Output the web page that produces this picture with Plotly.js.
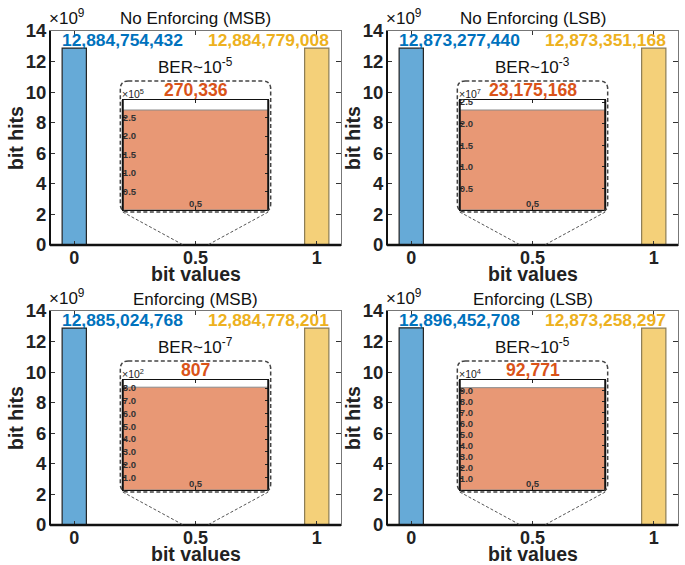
<!DOCTYPE html>
<html>
<head>
<meta charset="utf-8">
<script src="https://cdn.plot.ly/plotly-3.0.1.min.js"></script>
<style>html,body{margin:0;padding:0;background:#fff}</style>
</head>
<body>
<div id="chart" style="width:685px;height:565px"></div>
<script>
// Bit-hit counts per experiment
const panelTitles = ['No Enforcing (MSB)', 'No Enforcing (LSB)', 'Enforcing (MSB)', 'Enforcing (LSB)'];
const zeroHits = [12884754432, 12873277440, 12885024768, 12896452708];
const oneHits  = [12884779008, 12873351168, 12884778201, 12873258297];
const flipHits = [270336, 23175168, 807, 92771];
const berExponent = [-5, -3, -7, -5];
const insetExponent = [5, 7, 2, 4];
const insetStep = [0.5, 0.5, 1, 1];
const insetHeadroom = [1.1, 1.1, 1.07, 1.075];

const xTickVals = [0, 0.5, 1];
const xTickText = ['0', '0.5', '1'];
const yTickVals = [0, 2, 4, 6, 8, 10, 12, 14];
const yExponent = 9;
const xTitle = 'bit values';
const yTitle = 'bit hits';

const W = 685, H = 565;
const FONT = '"Liberation Sans", Arial, Helvetica, sans-serif';
const BLUE = '#0072BD', ORANGE = '#EDB120', RED = '#D95319';
const cols = [[50, 341], [387, 678]];
const rows = [[31, 245], [311, 525]];
const X_RANGE = [-0.1, 1.1];
const Y_SCALE = Math.pow(10, yExponent);
const Y_MAX = 14 * Y_SCALE;

const traces = [];
const layout = {
  width: W, height: H,
  margin: {l: 0, r: 0, t: 0, b: 0},
  showlegend: false,
  paper_bgcolor: '#ffffff',
  plot_bgcolor: 'rgba(0,0,0,0)',
  bargap: 0,
  font: {family: FONT, color: '#222'},
  annotations: [],
  shapes: []
};

const fmt = v => v.toLocaleString('en-US');
const paperX = p => p / W;
const paperY = p => 1 - p / H;

panelTitles.forEach((title, i) => {
  const [px0, px1] = cols[i % 2];
  const [py0, py1] = rows[Math.floor(i / 2)];
  const n = i + 1, m = i + 5;
  const xName = n === 1 ? 'xaxis' : 'xaxis' + n;
  const yName = n === 1 ? 'yaxis' : 'yaxis' + n;
  const xa = n === 1 ? 'x' : 'x' + n;
  const ya = n === 1 ? 'y' : 'y' + n;
  const xi = 'x' + m, yi = 'y' + m;

  // pixel offsets (from the top of the plot area) -> main-axis data values
  const pxOf = v => px0 + (v - X_RANGE[0]) / (X_RANGE[1] - X_RANGE[0]) * (px1 - px0);
  const dataY = off => (py1 - (py0 + off)) / (py1 - py0) * Y_MAX;

  // main axes
  layout[xName] = {
    domain: [paperX(px0), paperX(px1)], anchor: ya, range: X_RANGE,
    tickvals: xTickVals, ticktext: xTickText,
    ticks: 'inside', ticklen: 4, tickcolor: '#333',
    ticklabelstandoff: -4,
    showline: true, linecolor: '#777', linewidth: 1, mirror: 'ticks',
    showgrid: false, zeroline: false, fixedrange: true,
    tickfont: {size: 18, weight: 'bold', color: '#222', family: FONT}
  };
  layout[yName] = {
    domain: [paperY(py1), paperY(py0)], anchor: xa, range: [0, Y_MAX],
    tickvals: yTickVals.map(t => t * Y_SCALE), ticktext: yTickVals.map(String),
    ticks: 'inside', ticklen: 5, tickcolor: '#333',
    showline: true, linecolor: '#777', linewidth: 1, mirror: 'ticks',
    showgrid: false, zeroline: false, fixedrange: true,
    ticklabelstandoff: -1,
    tickfont: {size: 18.5, weight: 'bold', color: '#222', family: FONT}
  };

  // axis titles
  layout.annotations.push(
    {xref: 'paper', yref: 'paper', x: paperX((px0 + px1) / 2), y: paperY(py1 + 29),
     text: xTitle, showarrow: false, xanchor: 'center', yanchor: 'middle',
     font: {size: 19.5, weight: 'bold', color: '#222', family: FONT}},
    {xref: 'paper', yref: 'paper', x: paperX(px0 - 34), y: paperY((py0 + py1) / 2),
     text: yTitle, textangle: -90, showarrow: false, xanchor: 'center', yanchor: 'middle',
     font: {size: 19.5, weight: 'bold', color: '#222', family: FONT}}
  );

  // heavy left and bottom spines
  layout.shapes.push(
    {type: 'line', xref: xa + ' domain', yref: ya + ' domain', x0: 0, x1: 0, y0: 0, y1: 1, line: {color: '#111', width: 2}, layer: 'above'},
    {type: 'line', xref: xa + ' domain', yref: ya + ' domain', x0: 0, x1: 1, y0: 0, y1: 0, line: {color: '#111', width: 2.5}, layer: 'above'}
  );

  traces.push({
    type: 'bar', x: [0, 1], y: [zeroHits[i], oneHits[i]], width: 0.1,
    xaxis: xa, yaxis: ya, hoverinfo: 'skip',
    marker: {color: ['#66AAD7', '#F4D079'], line: {color: ['#222', '#8c7c55'], width: 1.2}}
  });

  // panel title
  layout.annotations.push({
    xref: 'paper', yref: 'paper', x: paperX((px0 + px1) / 2), y: paperY(py0 - 12),
    text: title, showarrow: false, xanchor: 'center', yanchor: 'middle',
    font: {size: 17, color: '#111', family: FONT}
  });
  // axis multiplier
  layout.annotations.push({
    xref: 'paper', yref: 'paper', x: paperX(px0 - 3), y: paperY(py0 - 1),
    text: '×10<sup>' + yExponent + '</sup>', showarrow: false, xanchor: 'left', yanchor: 'bottom',
    font: {size: 17, color: '#111', family: FONT}
  });
  // count labels
  layout.annotations.push(
    {xref: xa, yref: ya, x: 0.2, y: dataY(9), text: fmt(zeroHits[i]), showarrow: false,
     xanchor: 'center', yanchor: 'middle', font: {size: 17.4, weight: 'bold', color: BLUE, family: FONT}},
    {xref: xa, yref: ya, x: 0.8, y: dataY(9), text: fmt(oneHits[i]), showarrow: false,
     xanchor: 'center', yanchor: 'middle', font: {size: 17.4, weight: 'bold', color: ORANGE, family: FONT}},
    {xref: xa, yref: ya, x: 0.5, y: dataY(35), text: 'BER~10<sup>' + berExponent[i] + '</sup>', showarrow: false,
     xanchor: 'center', yanchor: 'middle', font: {size: 17, color: '#111', family: FONT}},
    {xref: xa, yref: ya, x: 0.5, y: dataY(59), text: fmt(flipHits[i]), showarrow: false,
     xanchor: 'center', yanchor: 'middle', font: {size: 17.6, weight: 'bold', color: RED, family: FONT}}
  );

  // inset: zoom on the flipped bits around 0.5
  const ix0 = 0.2, ix1 = 0.8;
  const iyTopPx = py0 + 69, iyBotPx = py0 + 179;
  const insetScale = Math.pow(10, insetExponent[i]);
  const yTop = flipHits[i] * insetHeadroom[i];
  const iTicks = [];
  for (let k = 1; k * insetStep[i] * insetScale <= yTop; k++) iTicks.push(k * insetStep[i] * insetScale);

  layout['xaxis' + m] = {
    domain: [paperX(pxOf(ix0)), paperX(pxOf(ix1))], anchor: yi, range: [0.45, 0.55],
    tickvals: [0.5], ticktext: ['0.5'], ticks: 'inside', ticklen: 3, tickcolor: '#222',
    ticklabelposition: 'inside', ticklabeloverflow: 'allow', ticklabelstandoff: -3,
    showline: true, linecolor: '#111', linewidth: 1, mirror: 'ticks',
    showgrid: false, zeroline: false, fixedrange: true,
    tickfont: {size: 9.5, weight: 'bold', color: '#333', family: FONT}
  };
  layout['yaxis' + m] = {
    domain: [paperY(iyBotPx), paperY(iyTopPx)], anchor: xi, range: [0, yTop],
    tickvals: iTicks, ticktext: iTicks.map(v => (v / insetScale).toFixed(1)),
    ticks: 'inside', ticklen: 3, tickcolor: '#222',
    ticklabelposition: 'inside', ticklabeloverflow: 'allow', ticklabelstandoff: -4,
    showline: true, linecolor: '#111', linewidth: 1, mirror: 'ticks',
    showgrid: false, zeroline: false, fixedrange: true,
    tickfont: {size: 9.5, weight: 'bold', color: '#333', family: FONT}
  };
  layout.shapes.push(
    {type: 'line', xref: xi + ' domain', yref: yi + ' domain', x0: 0, x1: 0, y0: 0, y1: 1, line: {color: '#111', width: 2}, layer: 'above'},
    {type: 'line', xref: xi + ' domain', yref: yi + ' domain', x0: 1, x1: 1, y0: 0, y1: 1, line: {color: '#111', width: 2}, layer: 'above'}
  );
  traces.push({
    type: 'bar', x: [0.5], y: [flipHits[i]], width: 0.1,
    xaxis: xi, yaxis: yi, hoverinfo: 'skip',
    marker: {color: '#E89875', line: {color: '#8a8a8a', width: 1}}
  });
  layout.annotations.push({
    xref: 'paper', yref: 'paper', x: paperX(pxOf(ix0) - 3), y: paperY(iyTopPx + 2),
    text: '×10<sup>' + insetExponent[i] + '</sup>', showarrow: false, xanchor: 'left', yanchor: 'bottom',
    font: {size: 10.5, color: '#222', family: FONT}
  });

  // dashed rounded frame around the inset and its connector lines
  const bx0 = 0.19, bx1 = 0.81, by0 = dataY(iyBotPx - py0 + 2), by1 = dataY(50);
  const rx = 8 / (px1 - px0) * (X_RANGE[1] - X_RANGE[0]);
  const ry = 8 / (py1 - py0) * Y_MAX;
  layout.shapes.push({
    type: 'path', xref: xa, yref: ya, layer: 'above',
    path: `M ${bx0 + rx},${by1} L ${bx1 - rx},${by1} Q ${bx1},${by1} ${bx1},${by1 - ry} L ${bx1},${by0 + ry} ` +
          `Q ${bx1},${by0} ${bx1 - rx},${by0} L ${bx0 + rx},${by0} Q ${bx0},${by0} ${bx0},${by0 + ry} ` +
          `L ${bx0},${by1 - ry} Q ${bx0},${by1} ${bx0 + rx},${by1} Z`,
    line: {color: '#444', width: 1.5, dash: '4px,2.5px'}
  });
  layout.shapes.push(
    {type: 'line', xref: xa, yref: ya, x0: ix0, y0: by0, x1: 0.45, y1: 0, line: {color: '#555', width: 1, dash: '3px,2px'}, layer: 'above'},
    {type: 'line', xref: xa, yref: ya, x0: ix1, y0: by0, x1: 0.55, y1: 0, line: {color: '#555', width: 1, dash: '3px,2px'}, layer: 'above'}
  );
});

Plotly.newPlot('chart', traces, layout, {displayModeBar: false, staticPlot: true});
</script>
</body>
</html>
